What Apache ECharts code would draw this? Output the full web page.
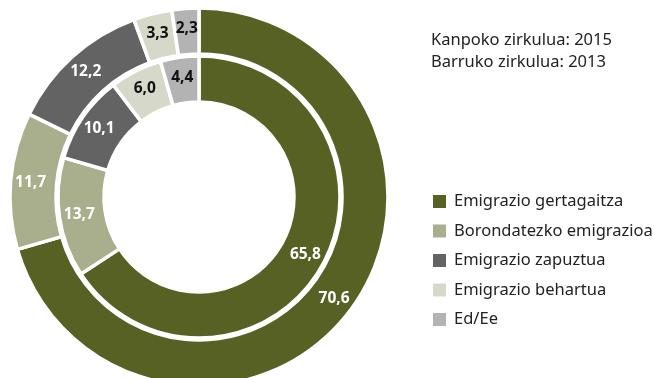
<!DOCTYPE html>
<html>
<head>
<meta charset="utf-8">
<script src="https://cdn.jsdelivr.net/npm/echarts@6/dist/echarts.min.js"></script>
<style>
  html, body { margin: 0; padding: 0; background: #fff; }
  #chart { width: 654px; height: 378px; }
</style>
</head>
<body>
<div id="chart"></div>
<script>
// Emigration categories, shared by both rings
const categories = [
  'Emigrazio gertagaitza',
  'Borondatezko emigrazioa',
  'Emigrazio zapuztua',
  'Emigrazio behartua',
  'Ed/Ee'
];
// Outer ring: 2015
const values2015 = [70.6, 11.7, 12.2, 3.3, 2.3];
// Inner ring: 2013
const values2013 = [65.8, 13.7, 10.1, 6.0, 4.4];

const colors = ['#566123', '#a9ae8c', '#636363', '#d6d9c9', '#b3b3b3'];
const labelColors = ['#ffffff', '#ffffff', '#ffffff', '#111111', '#111111'];
const FONT = '"Noto Sans", sans-serif';

function ringData(values) {
  return values.map((v, i) => ({
    name: categories[i],
    value: v,
    itemStyle: { color: colors[i] },
    label: { color: labelColors[i] }
  }));
}

const labelStyle = {
  show: true,
  position: 'inside',
  fontFamily: FONT,
  fontSize: 15.5,
  fontWeight: 'bold',
  formatter: p => p.value.toFixed(1).replace('.', ',')
};

const chart = echarts.init(document.getElementById('chart'), null, { renderer: 'canvas' });
chart.setOption({
  animation: false,
  title: {
    text: 'Kanpoko zirkulua: 2015\nBarruko zirkulua: 2013',
    left: 431,
    top: 29,
    padding: 0,
    textStyle: {
      fontFamily: FONT,
      fontSize: 16.5,
      fontWeight: 'normal',
      color: '#222',
      lineHeight: 22
    }
  },
  legend: {
    orient: 'vertical',
    left: 431,
    top: 193,
    padding: 0,
    itemWidth: 15,
    itemHeight: 15,
    itemGap: 12.5,
    icon: 'rect',
    data: categories,
    selectedMode: false,
    textStyle: { fontFamily: FONT, fontSize: 16.5, color: '#222', padding: [0, 0, 0, 2] }
  },
  series: [
    {
      name: '2015',
      type: 'pie',
      center: [199, 197],
      radius: [143, 189],
      startAngle: 90,
      clockwise: true,
      silent: true,
      itemStyle: { borderColor: '#fff', borderWidth: 3.5 },
      label: labelStyle,
      labelLine: { show: false },
      data: ringData(values2015)
    },
    {
      name: '2013',
      type: 'pie',
      center: [199, 197],
      radius: [95, 141],
      startAngle: 90,
      clockwise: true,
      silent: true,
      itemStyle: { borderColor: '#fff', borderWidth: 3.5 },
      label: labelStyle,
      labelLine: { show: false },
      data: ringData(values2013)
    }
  ]
});
</script>
</body>
</html>
